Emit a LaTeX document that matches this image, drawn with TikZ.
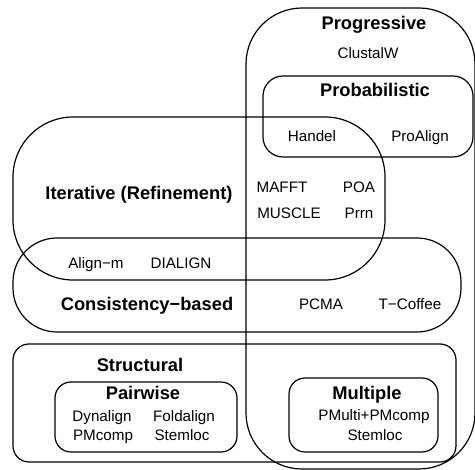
\documentclass[tikz,border=0pt]{standalone}
\usepackage{fontspec}
\setmainfont{Liberation Sans}

\newcommand{\grptext}{\fontsize{18.3}{20}\selectfont\bfseries}
\newcommand{\tooltext}{\fontsize{15.2}{17}\selectfont}

\begin{document}
\begin{tikzpicture}[line cap=round, line join=round, x=1pt, y=-1pt,
		grp/.style={inner sep=0pt, text height=13.1pt, text depth=0pt, font=\grptext},
		tool/.style={inner sep=0pt, text height=10.9pt, text depth=0pt, font=\tooltext},
		set/.style={draw=black, line width=1.2pt}]
		
		\useasboundingbox (0,0) rectangle (475,470);
		
		% Conjuntos grandes
		\draw[set, rounded corners=56pt] (246,8) rectangle (475,469);
		\draw[set, rounded corners=20pt] (263,76) rectangle (473,157);
		\draw[set, rounded corners=60pt] (13,117) rectangle (385,280);
		\draw[set, rounded corners=44pt] (13,238) rectangle (461,332);
		\draw[set, rounded corners=16pt] (13,344) rectangle (456,462);
		
		% Subconjuntos de Structural
		\draw[set, rounded corners=16pt] (55,382) rectangle (237,452);
		\draw[set, rounded corners=16pt] (289,378) rectangle (438,452);
		
		% Nombres de los grupos
		\node[grp] (progressive) at (374,23) {Progressive};
		\node[grp] (probabilistic) at (375,90) {Probabilistic};
		\node[grp] (iterative) at (139,193) {Iterative (Refinement)};
		\node[grp] (consistency) at (147,304) {Consistency−based};
		\node[grp] (structural) at (140,365) {Structural};
		\node[grp] (pairwise) at (143,393) {Pairwise};
		\node[grp] (multiple) at (367,393) {Multiple};
		
		% Programas
		\node[tool] (clustalw) at (368,53) {ClustalW};
		\node[tool] (handel) at (312,136) {Handel};
		\node[tool] (proalign) at (420,136) {ProAlign};
		\node[tool] (mafft) at (282,187) {MAFFT};
		\node[tool] (poa) at (359,187) {POA};
		\node[tool] (muscle) at (289,213) {MUSCLE};
		\node[tool] (prrn) at (359,213) {Prrn};
		\node[tool] (alignm) at (96,263) {Align−m};
		\node[tool] (dialign) at (181,263) {DIALIGN};
		\node[tool] (pcma) at (321,304) {PCMA};
		\node[tool] (tcoffee) at (410,304) {T−Coffee};
		\node[tool] (dynalign) at (102,416) {Dynalign};
		\node[tool] (foldalign) at (184,416) {Foldalign};
		\node[tool] (pmcomp) at (103,435) {PMcomp};
		\node[tool] (stemlocA) at (182,435) {Stemloc};
		\node[tool] (pmulti) at (374,415) {PMulti+PMcomp};
		\node[tool] (stemlocB) at (375,435) {Stemloc};
		
	\end{tikzpicture}
\end{document}
